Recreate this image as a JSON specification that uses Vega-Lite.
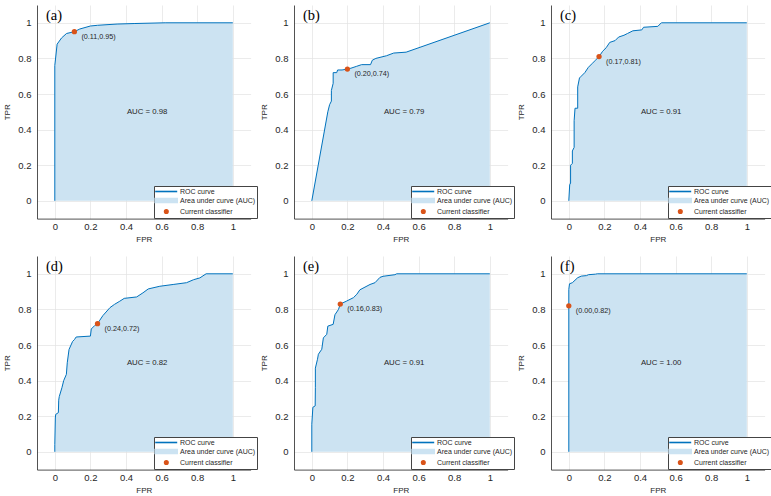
{
  "$schema": "https://vega.github.io/schema/vega-lite/v6.json",
  "background": "white",
  "padding": {"left": 3, "top": 5, "right": 0, "bottom": 0},
  "config": {
    "view": {"stroke": null},
    "font": "Liberation Sans",
    "axis": {"domainColor": "#262626", "domainWidth": 0.8, "ticks": false, "labelFont": "Liberation Sans", "labelFontSize": 9.5, "labelColor": "#262626", "titleFont": "Liberation Sans", "titleFontSize": 8, "titleFontWeight": "normal", "titleColor": "#262626", "gridColor": "#e3e3e3", "gridWidth": 0.7},
    "axisX": {"labelPadding": 3, "titlePadding": 4},
    "axisY": {"labelPadding": 6, "titlePadding": 6},
    "legend": {"title": null, "orient": "none", "legendX": 117, "legendY": 181, "padding": 1, "fillColor": "white", "strokeColor": "#444444", "labelFont": "Liberation Sans", "labelFontSize": 7, "labelColor": "#262626", "labelOffset": 16, "rowPadding": 0, "symbolSize": 49, "symbolStrokeWidth": 1.6},
    "title": {"font": "Liberation Serif", "fontSize": 14.5, "fontWeight": "normal", "anchor": "start", "offset": -18, "dx": 9, "color": "black", "frame": "group"}
  },
  "datasets": {
    "roc_a": [{"fpr":0,"tpr":0},{"fpr":0,"tpr":0.76},{"fpr":0.013,"tpr":0.88},{"fpr":0.038,"tpr":0.915},{"fpr":0.066,"tpr":0.94},{"fpr":0.11,"tpr":0.95},{"fpr":0.14,"tpr":0.965},{"fpr":0.2,"tpr":0.982},{"fpr":0.24,"tpr":0.986},{"fpr":0.35,"tpr":0.993},{"fpr":0.45,"tpr":0.996},{"fpr":0.62,"tpr":1},{"fpr":1,"tpr":1}],
    "roc_b": [{"fpr":0,"tpr":0},{"fpr":0.09,"tpr":0.5},{"fpr":0.1,"tpr":0.54},{"fpr":0.11,"tpr":0.56},{"fpr":0.11,"tpr":0.62},{"fpr":0.12,"tpr":0.66},{"fpr":0.12,"tpr":0.72},{"fpr":0.14,"tpr":0.72},{"fpr":0.145,"tpr":0.735},{"fpr":0.17,"tpr":0.735},{"fpr":0.2,"tpr":0.74},{"fpr":0.22,"tpr":0.745},{"fpr":0.25,"tpr":0.755},{"fpr":0.28,"tpr":0.765},{"fpr":0.33,"tpr":0.765},{"fpr":0.34,"tpr":0.79},{"fpr":0.36,"tpr":0.8},{"fpr":0.42,"tpr":0.815},{"fpr":0.46,"tpr":0.83},{"fpr":0.53,"tpr":0.835},{"fpr":1,"tpr":1}],
    "roc_c": [{"fpr":0,"tpr":0},{"fpr":0.005,"tpr":0.09},{"fpr":0.01,"tpr":0.1},{"fpr":0.01,"tpr":0.2},{"fpr":0.02,"tpr":0.21},{"fpr":0.02,"tpr":0.28},{"fpr":0.03,"tpr":0.3},{"fpr":0.03,"tpr":0.45},{"fpr":0.035,"tpr":0.52},{"fpr":0.05,"tpr":0.52},{"fpr":0.05,"tpr":0.64},{"fpr":0.06,"tpr":0.69},{"fpr":0.07,"tpr":0.7},{"fpr":0.09,"tpr":0.72},{"fpr":0.11,"tpr":0.75},{"fpr":0.13,"tpr":0.77},{"fpr":0.15,"tpr":0.79},{"fpr":0.17,"tpr":0.81},{"fpr":0.19,"tpr":0.84},{"fpr":0.21,"tpr":0.86},{"fpr":0.23,"tpr":0.89},{"fpr":0.26,"tpr":0.9},{"fpr":0.28,"tpr":0.92},{"fpr":0.31,"tpr":0.93},{"fpr":0.33,"tpr":0.94},{"fpr":0.36,"tpr":0.955},{"fpr":0.41,"tpr":0.96},{"fpr":0.42,"tpr":0.975},{"fpr":0.5,"tpr":0.98},{"fpr":0.52,"tpr":1},{"fpr":1,"tpr":1}],
    "roc_d": [{"fpr":0,"tpr":0},{"fpr":0,"tpr":0.04},{"fpr":0.003,"tpr":0.19},{"fpr":0.005,"tpr":0.21},{"fpr":0.02,"tpr":0.22},{"fpr":0.022,"tpr":0.29},{"fpr":0.025,"tpr":0.31},{"fpr":0.04,"tpr":0.36},{"fpr":0.05,"tpr":0.4},{"fpr":0.065,"tpr":0.435},{"fpr":0.07,"tpr":0.5},{"fpr":0.08,"tpr":0.575},{"fpr":0.1,"tpr":0.62},{"fpr":0.11,"tpr":0.63},{"fpr":0.12,"tpr":0.645},{"fpr":0.2,"tpr":0.65},{"fpr":0.205,"tpr":0.69},{"fpr":0.225,"tpr":0.71},{"fpr":0.24,"tpr":0.72},{"fpr":0.27,"tpr":0.765},{"fpr":0.31,"tpr":0.81},{"fpr":0.335,"tpr":0.828},{"fpr":0.365,"tpr":0.846},{"fpr":0.39,"tpr":0.862},{"fpr":0.46,"tpr":0.87},{"fpr":0.495,"tpr":0.893},{"fpr":0.525,"tpr":0.915},{"fpr":0.59,"tpr":0.93},{"fpr":0.665,"tpr":0.94},{"fpr":0.74,"tpr":0.95},{"fpr":0.78,"tpr":0.967},{"fpr":0.815,"tpr":0.977},{"fpr":0.85,"tpr":1},{"fpr":1,"tpr":1}],
    "roc_e": [{"fpr":0,"tpr":0},{"fpr":0,"tpr":0.155},{"fpr":0.006,"tpr":0.25},{"fpr":0.019,"tpr":0.258},{"fpr":0.02,"tpr":0.36},{"fpr":0.02,"tpr":0.47},{"fpr":0.032,"tpr":0.52},{"fpr":0.037,"tpr":0.548},{"fpr":0.056,"tpr":0.576},{"fpr":0.065,"tpr":0.64},{"fpr":0.084,"tpr":0.66},{"fpr":0.09,"tpr":0.706},{"fpr":0.12,"tpr":0.716},{"fpr":0.13,"tpr":0.77},{"fpr":0.15,"tpr":0.8},{"fpr":0.16,"tpr":0.83},{"fpr":0.196,"tpr":0.847},{"fpr":0.234,"tpr":0.866},{"fpr":0.253,"tpr":0.885},{"fpr":0.27,"tpr":0.91},{"fpr":0.327,"tpr":0.94},{"fpr":0.355,"tpr":0.95},{"fpr":0.383,"tpr":0.98},{"fpr":0.4,"tpr":0.986},{"fpr":0.467,"tpr":0.995},{"fpr":0.477,"tpr":1},{"fpr":1,"tpr":1}],
    "roc_f": [{"fpr":0,"tpr":0},{"fpr":0,"tpr":0.912},{"fpr":0.004,"tpr":0.944},{"fpr":0.02,"tpr":0.95},{"fpr":0.05,"tpr":0.978},{"fpr":0.07,"tpr":0.987},{"fpr":0.1,"tpr":0.99},{"fpr":0.11,"tpr":0.995},{"fpr":0.15,"tpr":0.998},{"fpr":0.16,"tpr":1},{"fpr":1,"tpr":1}],
    "info": [
      {"panel":"a","fpr":0.11,"tpr":0.95,"label":"(0.11,0.95)","auc":"AUC = 0.98"},
      {"panel":"b","fpr":0.20,"tpr":0.74,"label":"(0.20,0.74)","auc":"AUC = 0.79"},
      {"panel":"c","fpr":0.17,"tpr":0.81,"label":"(0.17,0.81)","auc":"AUC = 0.91"},
      {"panel":"d","fpr":0.24,"tpr":0.72,"label":"(0.24,0.72)","auc":"AUC = 0.82"},
      {"panel":"e","fpr":0.16,"tpr":0.83,"label":"(0.16,0.83)","auc":"AUC = 0.91"},
      {"panel":"f","fpr":0.00,"tpr":0.82,"label":"(0.00,0.82)","auc":"AUC = 1.00"}
    ]
  },
  "columns": 3,
  "spacing": {"column": 43, "row": 37},
  "bounds": "flush",
  "resolve": {"scale": {"color": "independent", "x": "independent", "y": "independent"}, "legend": {"color": "independent"}},
  "concat": [
    {"width": 213.6, "height": 213.6, "title": {"text": "(a)"}, "layer": [
      {"data": {"name": "roc_a"}, "mark": {"type": "area", "opacity": 1}, "encoding": {
        "x": {"field": "fpr", "type": "quantitative", "scale": {"domain": [-0.1, 1.1]}, "axis": {"title": "FPR", "values": [0, 0.2, 0.4, 0.6, 0.8, 1], "format": "~g"}},
        "y": {"field": "tpr", "type": "quantitative", "scale": {"domain": [-0.1, 1.1]}, "axis": {"title": "TPR", "values": [0, 0.2, 0.4, 0.6, 0.8, 1], "format": "~g"}},
        "y2": {"datum": 0},
        "color": {"datum": "Area under curve (AUC)", "scale": {"domain": ["ROC curve", "Area under curve (AUC)", "Current classifier"], "range": ["#0072BD", "#CCE3F2", "#D95319"]},
          "legend": {"symbolType": {"expr": "datum.value == 'ROC curve' ? 'M-1.23,0H5.06' : datum.value == 'Current classifier' ? 'M1.45,0A0.5,0.5,0,1,1,2.45,0A0.5,0.5,0,1,1,1.45,0Z' : 'M-1.23,-0.55H5.06V0.55H-1.23Z'"}, "symbolFillColor": {"expr": "datum.value == 'ROC curve' ? 'transparent' : datum.value == 'Current classifier' ? '#D95319' : '#CCE3F2'"}}}}},
      {"data": {"name": "roc_a"}, "mark": {"type": "line", "strokeWidth": 1}, "encoding": {"x": {"field": "fpr", "type": "quantitative"}, "y": {"field": "tpr", "type": "quantitative"}, "color": {"datum": "ROC curve"}}},
      {"data": {"name": "info"}, "transform": [{"filter": "datum.panel == 'a'"}], "mark": {"type": "circle", "size": 28, "opacity": 1}, "encoding": {"x": {"field": "fpr", "type": "quantitative"}, "y": {"field": "tpr", "type": "quantitative"}, "color": {"datum": "Current classifier"}}},
      {"data": {"name": "info"}, "transform": [{"filter": "datum.panel == 'a'"}], "mark": {"type": "text", "align": "left", "baseline": "middle", "dx": 7, "dy": 5, "fontSize": 7.2, "color": "#262626"}, "encoding": {"x": {"field": "fpr", "type": "quantitative"}, "y": {"field": "tpr", "type": "quantitative"}, "text": {"field": "label"}}},
      {"data": {"name": "info"}, "transform": [{"filter": "datum.panel == 'a'"}], "mark": {"type": "text", "align": "left", "baseline": "middle", "fontSize": 7.8, "color": "#262626"}, "encoding": {"x": {"datum": 0.405, "type": "quantitative"}, "y": {"datum": 0.5, "type": "quantitative"}, "text": {"field": "auc"}}}
    ]},
    {"width": 213.6, "height": 213.6, "title": {"text": "(b)"}, "layer": [
      {"data": {"name": "roc_b"}, "mark": {"type": "area", "opacity": 1}, "encoding": {
        "x": {"field": "fpr", "type": "quantitative", "scale": {"domain": [-0.1, 1.1]}, "axis": {"title": "FPR", "values": [0, 0.2, 0.4, 0.6, 0.8, 1], "format": "~g"}},
        "y": {"field": "tpr", "type": "quantitative", "scale": {"domain": [-0.1, 1.1]}, "axis": {"title": "TPR", "values": [0, 0.2, 0.4, 0.6, 0.8, 1], "format": "~g"}},
        "y2": {"datum": 0},
        "color": {"datum": "Area under curve (AUC)", "scale": {"domain": ["ROC curve", "Area under curve (AUC)", "Current classifier"], "range": ["#0072BD", "#CCE3F2", "#D95319"]},
          "legend": {"symbolType": {"expr": "datum.value == 'ROC curve' ? 'M-1.23,0H5.06' : datum.value == 'Current classifier' ? 'M1.45,0A0.5,0.5,0,1,1,2.45,0A0.5,0.5,0,1,1,1.45,0Z' : 'M-1.23,-0.55H5.06V0.55H-1.23Z'"}, "symbolFillColor": {"expr": "datum.value == 'ROC curve' ? 'transparent' : datum.value == 'Current classifier' ? '#D95319' : '#CCE3F2'"}}}}},
      {"data": {"name": "roc_b"}, "mark": {"type": "line", "strokeWidth": 1}, "encoding": {"x": {"field": "fpr", "type": "quantitative"}, "y": {"field": "tpr", "type": "quantitative"}, "color": {"datum": "ROC curve"}}},
      {"data": {"name": "info"}, "transform": [{"filter": "datum.panel == 'b'"}], "mark": {"type": "circle", "size": 28, "opacity": 1}, "encoding": {"x": {"field": "fpr", "type": "quantitative"}, "y": {"field": "tpr", "type": "quantitative"}, "color": {"datum": "Current classifier"}}},
      {"data": {"name": "info"}, "transform": [{"filter": "datum.panel == 'b'"}], "mark": {"type": "text", "align": "left", "baseline": "middle", "dx": 7, "dy": 5, "fontSize": 7.2, "color": "#262626"}, "encoding": {"x": {"field": "fpr", "type": "quantitative"}, "y": {"field": "tpr", "type": "quantitative"}, "text": {"field": "label"}}},
      {"data": {"name": "info"}, "transform": [{"filter": "datum.panel == 'b'"}], "mark": {"type": "text", "align": "left", "baseline": "middle", "fontSize": 7.8, "color": "#262626"}, "encoding": {"x": {"datum": 0.405, "type": "quantitative"}, "y": {"datum": 0.5, "type": "quantitative"}, "text": {"field": "auc"}}}
    ]},
    {"width": 213.6, "height": 213.6, "title": {"text": "(c)"}, "layer": [
      {"data": {"name": "roc_c"}, "mark": {"type": "area", "opacity": 1}, "encoding": {
        "x": {"field": "fpr", "type": "quantitative", "scale": {"domain": [-0.1, 1.1]}, "axis": {"title": "FPR", "values": [0, 0.2, 0.4, 0.6, 0.8, 1], "format": "~g"}},
        "y": {"field": "tpr", "type": "quantitative", "scale": {"domain": [-0.1, 1.1]}, "axis": {"title": "TPR", "values": [0, 0.2, 0.4, 0.6, 0.8, 1], "format": "~g"}},
        "y2": {"datum": 0},
        "color": {"datum": "Area under curve (AUC)", "scale": {"domain": ["ROC curve", "Area under curve (AUC)", "Current classifier"], "range": ["#0072BD", "#CCE3F2", "#D95319"]},
          "legend": {"symbolType": {"expr": "datum.value == 'ROC curve' ? 'M-1.23,0H5.06' : datum.value == 'Current classifier' ? 'M1.45,0A0.5,0.5,0,1,1,2.45,0A0.5,0.5,0,1,1,1.45,0Z' : 'M-1.23,-0.55H5.06V0.55H-1.23Z'"}, "symbolFillColor": {"expr": "datum.value == 'ROC curve' ? 'transparent' : datum.value == 'Current classifier' ? '#D95319' : '#CCE3F2'"}}}}},
      {"data": {"name": "roc_c"}, "mark": {"type": "line", "strokeWidth": 1}, "encoding": {"x": {"field": "fpr", "type": "quantitative"}, "y": {"field": "tpr", "type": "quantitative"}, "color": {"datum": "ROC curve"}}},
      {"data": {"name": "info"}, "transform": [{"filter": "datum.panel == 'c'"}], "mark": {"type": "circle", "size": 28, "opacity": 1}, "encoding": {"x": {"field": "fpr", "type": "quantitative"}, "y": {"field": "tpr", "type": "quantitative"}, "color": {"datum": "Current classifier"}}},
      {"data": {"name": "info"}, "transform": [{"filter": "datum.panel == 'c'"}], "mark": {"type": "text", "align": "left", "baseline": "middle", "dx": 7, "dy": 5, "fontSize": 7.2, "color": "#262626"}, "encoding": {"x": {"field": "fpr", "type": "quantitative"}, "y": {"field": "tpr", "type": "quantitative"}, "text": {"field": "label"}}},
      {"data": {"name": "info"}, "transform": [{"filter": "datum.panel == 'c'"}], "mark": {"type": "text", "align": "left", "baseline": "middle", "fontSize": 7.8, "color": "#262626"}, "encoding": {"x": {"datum": 0.405, "type": "quantitative"}, "y": {"datum": 0.5, "type": "quantitative"}, "text": {"field": "auc"}}}
    ]},
    {"width": 213.6, "height": 213.6, "title": {"text": "(d)"}, "layer": [
      {"data": {"name": "roc_d"}, "mark": {"type": "area", "opacity": 1}, "encoding": {
        "x": {"field": "fpr", "type": "quantitative", "scale": {"domain": [-0.1, 1.1]}, "axis": {"title": "FPR", "values": [0, 0.2, 0.4, 0.6, 0.8, 1], "format": "~g"}},
        "y": {"field": "tpr", "type": "quantitative", "scale": {"domain": [-0.1, 1.1]}, "axis": {"title": "TPR", "values": [0, 0.2, 0.4, 0.6, 0.8, 1], "format": "~g"}},
        "y2": {"datum": 0},
        "color": {"datum": "Area under curve (AUC)", "scale": {"domain": ["ROC curve", "Area under curve (AUC)", "Current classifier"], "range": ["#0072BD", "#CCE3F2", "#D95319"]},
          "legend": {"symbolType": {"expr": "datum.value == 'ROC curve' ? 'M-1.23,0H5.06' : datum.value == 'Current classifier' ? 'M1.45,0A0.5,0.5,0,1,1,2.45,0A0.5,0.5,0,1,1,1.45,0Z' : 'M-1.23,-0.55H5.06V0.55H-1.23Z'"}, "symbolFillColor": {"expr": "datum.value == 'ROC curve' ? 'transparent' : datum.value == 'Current classifier' ? '#D95319' : '#CCE3F2'"}}}}},
      {"data": {"name": "roc_d"}, "mark": {"type": "line", "strokeWidth": 1}, "encoding": {"x": {"field": "fpr", "type": "quantitative"}, "y": {"field": "tpr", "type": "quantitative"}, "color": {"datum": "ROC curve"}}},
      {"data": {"name": "info"}, "transform": [{"filter": "datum.panel == 'd'"}], "mark": {"type": "circle", "size": 28, "opacity": 1}, "encoding": {"x": {"field": "fpr", "type": "quantitative"}, "y": {"field": "tpr", "type": "quantitative"}, "color": {"datum": "Current classifier"}}},
      {"data": {"name": "info"}, "transform": [{"filter": "datum.panel == 'd'"}], "mark": {"type": "text", "align": "left", "baseline": "middle", "dx": 7, "dy": 5, "fontSize": 7.2, "color": "#262626"}, "encoding": {"x": {"field": "fpr", "type": "quantitative"}, "y": {"field": "tpr", "type": "quantitative"}, "text": {"field": "label"}}},
      {"data": {"name": "info"}, "transform": [{"filter": "datum.panel == 'd'"}], "mark": {"type": "text", "align": "left", "baseline": "middle", "fontSize": 7.8, "color": "#262626"}, "encoding": {"x": {"datum": 0.405, "type": "quantitative"}, "y": {"datum": 0.5, "type": "quantitative"}, "text": {"field": "auc"}}}
    ]},
    {"width": 213.6, "height": 213.6, "title": {"text": "(e)"}, "layer": [
      {"data": {"name": "roc_e"}, "mark": {"type": "area", "opacity": 1}, "encoding": {
        "x": {"field": "fpr", "type": "quantitative", "scale": {"domain": [-0.1, 1.1]}, "axis": {"title": "FPR", "values": [0, 0.2, 0.4, 0.6, 0.8, 1], "format": "~g"}},
        "y": {"field": "tpr", "type": "quantitative", "scale": {"domain": [-0.1, 1.1]}, "axis": {"title": "TPR", "values": [0, 0.2, 0.4, 0.6, 0.8, 1], "format": "~g"}},
        "y2": {"datum": 0},
        "color": {"datum": "Area under curve (AUC)", "scale": {"domain": ["ROC curve", "Area under curve (AUC)", "Current classifier"], "range": ["#0072BD", "#CCE3F2", "#D95319"]},
          "legend": {"symbolType": {"expr": "datum.value == 'ROC curve' ? 'M-1.23,0H5.06' : datum.value == 'Current classifier' ? 'M1.45,0A0.5,0.5,0,1,1,2.45,0A0.5,0.5,0,1,1,1.45,0Z' : 'M-1.23,-0.55H5.06V0.55H-1.23Z'"}, "symbolFillColor": {"expr": "datum.value == 'ROC curve' ? 'transparent' : datum.value == 'Current classifier' ? '#D95319' : '#CCE3F2'"}}}}},
      {"data": {"name": "roc_e"}, "mark": {"type": "line", "strokeWidth": 1}, "encoding": {"x": {"field": "fpr", "type": "quantitative"}, "y": {"field": "tpr", "type": "quantitative"}, "color": {"datum": "ROC curve"}}},
      {"data": {"name": "info"}, "transform": [{"filter": "datum.panel == 'e'"}], "mark": {"type": "circle", "size": 28, "opacity": 1}, "encoding": {"x": {"field": "fpr", "type": "quantitative"}, "y": {"field": "tpr", "type": "quantitative"}, "color": {"datum": "Current classifier"}}},
      {"data": {"name": "info"}, "transform": [{"filter": "datum.panel == 'e'"}], "mark": {"type": "text", "align": "left", "baseline": "middle", "dx": 7, "dy": 5, "fontSize": 7.2, "color": "#262626"}, "encoding": {"x": {"field": "fpr", "type": "quantitative"}, "y": {"field": "tpr", "type": "quantitative"}, "text": {"field": "label"}}},
      {"data": {"name": "info"}, "transform": [{"filter": "datum.panel == 'e'"}], "mark": {"type": "text", "align": "left", "baseline": "middle", "fontSize": 7.8, "color": "#262626"}, "encoding": {"x": {"datum": 0.405, "type": "quantitative"}, "y": {"datum": 0.5, "type": "quantitative"}, "text": {"field": "auc"}}}
    ]},
    {"width": 213.6, "height": 213.6, "title": {"text": "(f)"}, "layer": [
      {"data": {"name": "roc_f"}, "mark": {"type": "area", "opacity": 1}, "encoding": {
        "x": {"field": "fpr", "type": "quantitative", "scale": {"domain": [-0.1, 1.1]}, "axis": {"title": "FPR", "values": [0, 0.2, 0.4, 0.6, 0.8, 1], "format": "~g"}},
        "y": {"field": "tpr", "type": "quantitative", "scale": {"domain": [-0.1, 1.1]}, "axis": {"title": "TPR", "values": [0, 0.2, 0.4, 0.6, 0.8, 1], "format": "~g"}},
        "y2": {"datum": 0},
        "color": {"datum": "Area under curve (AUC)", "scale": {"domain": ["ROC curve", "Area under curve (AUC)", "Current classifier"], "range": ["#0072BD", "#CCE3F2", "#D95319"]},
          "legend": {"symbolType": {"expr": "datum.value == 'ROC curve' ? 'M-1.23,0H5.06' : datum.value == 'Current classifier' ? 'M1.45,0A0.5,0.5,0,1,1,2.45,0A0.5,0.5,0,1,1,1.45,0Z' : 'M-1.23,-0.55H5.06V0.55H-1.23Z'"}, "symbolFillColor": {"expr": "datum.value == 'ROC curve' ? 'transparent' : datum.value == 'Current classifier' ? '#D95319' : '#CCE3F2'"}}}}},
      {"data": {"name": "roc_f"}, "mark": {"type": "line", "strokeWidth": 1}, "encoding": {"x": {"field": "fpr", "type": "quantitative"}, "y": {"field": "tpr", "type": "quantitative"}, "color": {"datum": "ROC curve"}}},
      {"data": {"name": "info"}, "transform": [{"filter": "datum.panel == 'f'"}], "mark": {"type": "circle", "size": 28, "opacity": 1}, "encoding": {"x": {"field": "fpr", "type": "quantitative"}, "y": {"field": "tpr", "type": "quantitative"}, "color": {"datum": "Current classifier"}}},
      {"data": {"name": "info"}, "transform": [{"filter": "datum.panel == 'f'"}], "mark": {"type": "text", "align": "left", "baseline": "middle", "dx": 7, "dy": 5, "fontSize": 7.2, "color": "#262626"}, "encoding": {"x": {"field": "fpr", "type": "quantitative"}, "y": {"field": "tpr", "type": "quantitative"}, "text": {"field": "label"}}},
      {"data": {"name": "info"}, "transform": [{"filter": "datum.panel == 'f'"}], "mark": {"type": "text", "align": "left", "baseline": "middle", "fontSize": 7.8, "color": "#262626"}, "encoding": {"x": {"datum": 0.405, "type": "quantitative"}, "y": {"datum": 0.5, "type": "quantitative"}, "text": {"field": "auc"}}}
    ]}
  ]
}
